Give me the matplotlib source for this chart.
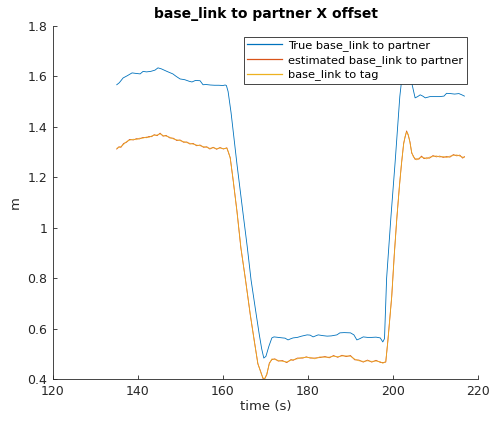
import matplotlib
matplotlib.use("Agg")
import matplotlib.pyplot as plt

# ---------------- data ----------------
t_true = [135.0, 135.6, 136.5, 137.5, 138.6, 139.5, 140.5, 141.2, 142.0, 143.0,
          144.0, 144.7, 145.5, 146.8, 147.5, 148.2, 149.0, 149.9, 151.0, 152.0,
          152.7, 153.5, 154.6, 155.3, 156.0, 157.0, 158.0, 159.0, 160.0, 160.5,
          160.8, 161.2, 161.9, 163.3, 164.7, 165.7, 166.6, 167.6, 168.5, 169.1,
          169.6, 170.1, 170.8, 171.5, 172.0, 173.0, 174.0, 174.6, 175.3, 176.0,
          176.5, 177.5, 178.5, 179.8, 180.5, 181.2, 182.4, 183.5, 184.5, 185.5,
          186.8, 187.5, 188.5, 190.0, 190.8, 191.5, 192.2, 193.0, 194.0, 195.0,
          196.0, 197.0, 197.6, 198.0, 198.5, 199.5, 200.5, 201.6, 202.4, 203.0,
          203.6, 204.4, 205.2, 205.8, 206.4, 207.0, 207.6, 208.7, 210.0, 211.0,
          212.0, 212.6, 213.5, 214.5, 215.5, 216.2, 216.8]
v_true = [1.567, 1.575, 1.594, 1.603, 1.614, 1.612, 1.610, 1.620, 1.618, 1.620,
          1.625, 1.634, 1.630, 1.620, 1.615, 1.610, 1.600, 1.590, 1.587, 1.581,
          1.578, 1.584, 1.583, 1.567, 1.568, 1.566, 1.565, 1.565, 1.564, 1.566,
          1.564, 1.540, 1.456, 1.250, 1.059, 0.925, 0.793, 0.680, 0.580, 0.520,
          0.483, 0.490, 0.530, 0.563, 0.567, 0.565, 0.563, 0.562, 0.555, 0.560,
          0.563, 0.565, 0.570, 0.575, 0.574, 0.567, 0.575, 0.572, 0.570, 0.571,
          0.575, 0.583, 0.584, 0.583, 0.575, 0.555, 0.560, 0.567, 0.565, 0.565,
          0.566, 0.563, 0.547, 0.560, 0.800, 1.040, 1.260, 1.520, 1.640, 1.660,
          1.630, 1.575, 1.515, 1.520, 1.527, 1.522, 1.515, 1.520, 1.520, 1.520,
          1.522, 1.533, 1.532, 1.530, 1.532, 1.527, 1.522]

t_tag = [135.0, 135.5, 136.0, 136.6, 137.3, 138.0, 138.9, 139.6, 140.3, 141.2,
         142.0, 142.6, 143.2, 143.8, 144.5, 145.2, 145.9, 146.6, 147.5, 148.3,
         149.1, 149.9, 150.7, 151.5, 152.2, 153.0, 153.8, 154.6, 155.4, 156.2,
         156.9, 157.7, 158.5, 159.3, 160.1, 160.9, 161.3, 161.7, 162.4, 163.3,
         164.2, 165.3, 166.4, 167.3, 168.2, 168.9, 169.4, 169.8, 170.3, 170.9,
         171.5, 172.2, 173.0, 174.0, 175.0, 176.0, 176.5, 177.5, 178.8, 179.6,
         180.5, 181.6, 182.8, 184.0, 185.0, 186.0, 187.0, 188.0, 189.0, 190.0,
         191.0, 192.0, 193.0, 194.0, 195.0, 196.0, 197.0, 197.6, 198.3, 198.8,
         199.7, 200.3, 200.9, 201.5, 202.0, 202.5, 202.8, 203.2, 203.6, 204.0,
         204.4, 204.8, 205.2, 205.6, 206.1, 206.7, 207.3, 207.9, 208.6, 209.4,
         210.2, 211.0, 211.8, 212.6, 213.4, 214.2, 215.0, 215.7, 216.4, 216.8]
v_tag = [1.315, 1.318, 1.322, 1.330, 1.342, 1.347, 1.351, 1.349, 1.355, 1.355,
         1.360, 1.358, 1.364, 1.366, 1.368, 1.372, 1.366, 1.363, 1.359, 1.352,
         1.349, 1.345, 1.342, 1.337, 1.335, 1.331, 1.328, 1.325, 1.322, 1.318,
         1.315, 1.317, 1.314, 1.316, 1.314, 1.315, 1.300, 1.275, 1.190, 1.060,
         0.924, 0.790, 0.660, 0.555, 0.463, 0.425, 0.405, 0.400, 0.420, 0.460,
         0.480, 0.477, 0.474, 0.470, 0.468, 0.474, 0.477, 0.480, 0.486, 0.485,
         0.486, 0.480, 0.488, 0.486, 0.487, 0.490, 0.489, 0.491, 0.492, 0.490,
         0.479, 0.472, 0.470, 0.472, 0.470, 0.471, 0.469, 0.462, 0.470, 0.550,
         0.730, 0.890, 1.040, 1.160, 1.257, 1.330, 1.360, 1.380, 1.370, 1.336,
         1.300, 1.280, 1.275, 1.269, 1.276, 1.280, 1.278, 1.273, 1.280, 1.282,
         1.285, 1.280, 1.283, 1.278, 1.284, 1.286, 1.289, 1.284, 1.280, 1.279]
v_est = [1.312, 1.321, 1.319, 1.334, 1.339, 1.350, 1.348, 1.353, 1.352, 1.358,
         1.357, 1.362, 1.361, 1.369, 1.365, 1.375, 1.363, 1.366, 1.356, 1.355,
         1.346, 1.348, 1.339, 1.340, 1.332, 1.334, 1.325, 1.328, 1.319, 1.321,
         1.312, 1.319, 1.311, 1.318, 1.312, 1.317, 1.297, 1.278, 1.186, 1.064,
         0.920, 0.794, 0.656, 0.559, 0.460, 0.428, 0.402, 0.401, 0.417, 0.463,
         0.477, 0.480, 0.471, 0.473, 0.465, 0.477, 0.474, 0.483, 0.483, 0.488,
         0.483, 0.483, 0.485, 0.489, 0.484, 0.493, 0.486, 0.494, 0.489, 0.493,
         0.476, 0.475, 0.467, 0.475, 0.467, 0.474, 0.466, 0.465, 0.467, 0.554,
         0.726, 0.894, 1.036, 1.164, 1.253, 1.334, 1.356, 1.384, 1.366, 1.340,
         1.296, 1.284, 1.271, 1.273, 1.272, 1.284, 1.274, 1.277, 1.276, 1.286,
         1.281, 1.284, 1.279, 1.282, 1.280, 1.290, 1.285, 1.288, 1.276, 1.282]

x_ticks = [120, 140, 160, 180, 200, 220]
y_ticks = [0.4, 0.6, 0.8, 1.0, 1.2, 1.4, 1.6, 1.8]
y_tick_labels = ["0.4", "0.6", "0.8", "1", "1.2", "1.4", "1.6", "1.8"]

labels = ["True base_link to partner", "estimated base_link to partner", "base_link to tag"]
colors = ["#0072BD", "#D95319", "#EDB120"]

# ---------------- plot ----------------
plt.rcParams['font.family'] = ['DejaVu Sans']
fig = plt.figure(figsize=(4.91, 4.22), dpi=100)
ax = fig.add_axes([53/491, 1 - 379/422, (478 - 53)/491, (379 - 26)/422])

ax.plot(t_true, v_true, color=colors[0], lw=0.6, label=labels[0])
ax.plot(t_tag, v_est, color=colors[1], lw=0.6, label=labels[1])
ax.plot(t_tag, v_tag, color=colors[2], lw=0.6, label=labels[2], alpha=0.85)

ax.set_xlim(120, 220)
ax.set_ylim(0.4, 1.8)
ax.set_xticks(x_ticks)
ax.set_yticks(y_ticks)
ax.set_yticklabels(y_tick_labels)

for s in ["top", "right"]:
    ax.spines[s].set_visible(False)
for s in ["left", "bottom"]:
    ax.spines[s].set_color("#262626")
    ax.spines[s].set_linewidth(0.6)
ax.tick_params(direction="in", length=3, width=0.6, colors="#262626",
               labelsize=9, pad=4)

ax.set_title("base_link to partner X offset", fontsize=10, fontweight="bold", pad=6)
ax.set_xlabel("time (s)", fontsize=9.5, color="#262626", labelpad=2)
ax.set_ylabel("m", fontsize=9.5, color="#262626", labelpad=4)

leg = ax.legend(loc="upper right", bbox_to_anchor=((467 - 53)/425, (379 - 37)/353),
                fontsize=8.2, frameon=True, fancybox=False, framealpha=1,
                edgecolor="#262626", borderaxespad=0, handlelength=3.0,
                labelspacing=0.32, borderpad=0.3, handletextpad=0.6)
leg.get_frame().set_linewidth(0.6)
for line in leg.get_lines():
    line.set_linewidth(0.9)
    line.set_alpha(1)

fig.savefig("out.png", dpi=100, facecolor="white")
